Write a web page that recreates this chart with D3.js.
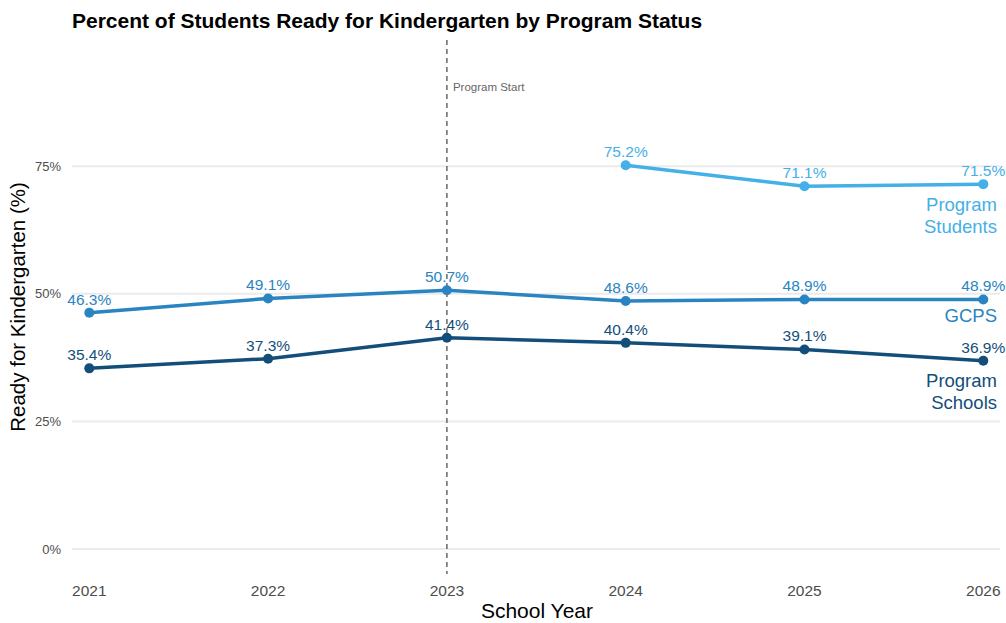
<!DOCTYPE html>
<html>
<head>
<meta charset="utf-8">
<script src="https://cdn.jsdelivr.net/npm/d3@7"></script>
<style>
  body { margin: 0; background: #fff; }
  svg { font-family: 'Liberation Sans', Arial, sans-serif; }
</style>
</head>
<body>
<div id="chart"></div>
<script>
const years = [2021, 2022, 2023, 2024, 2025, 2026]
const gcps = [46.3, 49.1, 50.7, 48.6, 48.9, 48.9]
const programSchools = [35.4, 37.3, 41.4, 40.4, 39.1, 36.9]
const programStudents = [null, null, null, 75.2, 71.1, 71.5]
const yTicks = [0, 25, 50, 75]
const programStartYear = 2023

const width = 1006
const height = 623

const series = [
  { name: ['Program', 'Students'], values: programStudents, colour: '#45afe7', labelY: [211, 233] },
  { name: ['GCPS'], values: gcps, colour: '#2984c1', labelY: [322] },
  { name: ['Program', 'Schools'], values: programSchools, colour: '#134e7b', labelY: [387, 409] }
]

const svg = d3.select('#chart').append('svg')
  .attr('width', width)
  .attr('height', height)

const x = d3.scaleLinear().domain([2021, 2026]).range([89.3, 983.3])
const y = d3.scaleLinear().domain([0, 75]).range([549, 166.3])

const panelTop = 40
const panelBottom = 574

// Gridlines
svg.append('g')
  .selectAll('line')
  .data(yTicks)
  .join('line')
  .attr('x1', 72)
  .attr('x2', 1000)
  .attr('y1', d => y(d))
  .attr('y2', d => y(d))
  .attr('stroke', '#ebebeb')
  .attr('stroke-width', 2)

// Y axis labels
svg.append('g')
  .selectAll('text')
  .data(yTicks)
  .join('text')
  .attr('x', 61)
  .attr('y', d => y(d))
  .attr('dy', '0.35em')
  .attr('text-anchor', 'end')
  .attr('fill', '#4d4d4d')
  .style('font-size', '13px')
  .text(d => d + '%')

// X axis labels
svg.append('g')
  .selectAll('text')
  .data(years)
  .join('text')
  .attr('x', d => x(d))
  .attr('y', 596)
  .attr('text-anchor', 'middle')
  .attr('fill', '#4d4d4d')
  .style('font-size', '15.5px')
  .text(d => d)

// Program start line
svg.append('line')
  .attr('x1', x(programStartYear))
  .attr('x2', x(programStartYear))
  .attr('y1', panelTop)
  .attr('y2', panelBottom)
  .attr('stroke', '#666')
  .attr('stroke-width', 1.5)
  .attr('stroke-dasharray', '5,4')

svg.append('text')
  .attr('x', x(programStartYear) + 6)
  .attr('y', 91)
  .attr('fill', '#666')
  .style('font-size', '11.5px')
  .text('Program Start')

// Lines, points and labels
const line = d3.line()
  .defined(d => d.v !== null)
  .x(d => x(d.year))
  .y(d => y(d.v))

series.forEach(s => {
  const pts = years.map((year, i) => ({ year, v: s.values[i] }))
  const valid = pts.filter(d => d.v !== null)
  const g = svg.append('g')

  g.append('path')
    .datum(pts)
    .attr('d', line)
    .attr('fill', 'none')
    .attr('stroke', s.colour)
    .attr('stroke-width', 3.5)
    .attr('stroke-linejoin', 'round')

  g.selectAll('circle')
    .data(valid)
    .join('circle')
    .attr('cx', d => x(d.year))
    .attr('cy', d => y(d.v))
    .attr('r', 5)
    .attr('fill', s.colour)

  g.selectAll('text.value')
    .data(valid)
    .join('text')
    .attr('class', 'value')
    .attr('x', d => x(d.year))
    .attr('y', d => y(d.v) - 8)
    .attr('text-anchor', 'middle')
    .attr('fill', s.colour)
    .style('font-size', '15.5px')
    .text(d => d.v.toFixed(1) + '%')

  s.name.forEach((t, i) => {
    g.append('text')
      .attr('x', 997)
      .attr('y', s.labelY[i])
      .attr('text-anchor', 'end')
      .attr('fill', s.colour)
      .style('font-size', '18.5px')
      .text(t)
  })
})

// Titles
svg.append('text')
  .attr('x', 72)
  .attr('y', 28)
  .attr('fill', '#000')
  .style('font-size', '21px')
  .style('font-weight', 'bold')
  .text('Percent of Students Ready for Kindergarten by Program Status')

svg.append('text')
  .attr('x', 537)
  .attr('y', 618)
  .attr('text-anchor', 'middle')
  .attr('fill', '#000')
  .style('font-size', '21px')
  .text('School Year')

svg.append('text')
  .attr('transform', 'translate(25,307) rotate(-90)')
  .attr('text-anchor', 'middle')
  .attr('fill', '#000')
  .style('font-size', '20.5px')
  .text('Ready for Kindergarten (%)')
</script>
</body>
</html>
